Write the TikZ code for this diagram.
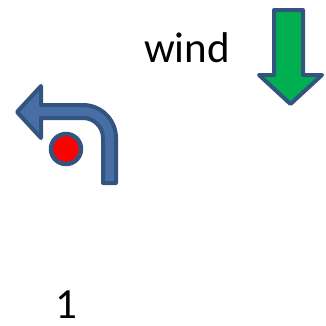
\documentclass[tikz,border=0pt]{standalone}
\usepackage{fontspec}
\setmainfont{Carlito}
\definecolor{arrowblue}{RGB}{72,110,165}
\definecolor{rimblue}{RGB}{52,84,128}
\definecolor{windgreen}{RGB}{0,176,80}
\begin{document}
\begin{tikzpicture}[x=1pt,y=1pt,
	shapeline/.style={draw=rimblue,line width=4pt,line join=round},
	label/.style={inner sep=0pt,anchor=base,font=\fontsize{43}{50}\selectfont}]
		\useasboundingbox (0,0) rectangle (326,-325);
		% turning arrow
		\filldraw[shapeline,fill=arrowblue] (17,-112)--(41,-86)--(41,-105)--(83,-105)
			arc[start angle=90,end angle=0,radius=33]--(116,-183)--(103,-183)--(103,-138)
			arc[start angle=0,end angle=90,radius=20]--(41,-118)--(41,-138)--cycle;
		\filldraw[draw=rimblue,line width=4.5pt,fill=red] (66,-149) circle (15);
		% wind arrow
		\filldraw[shapeline,fill=windgreen] (274,-10)--(303,-10)--(303,-75)--(322,-75)
			--(290.5,-104)--(259,-75)--(274,-75)--cycle;
		\node[label] (wind) at (187,-62){wind};
		\node[label] (one) at (66,-318){1};
	\end{tikzpicture}
\end{document}
